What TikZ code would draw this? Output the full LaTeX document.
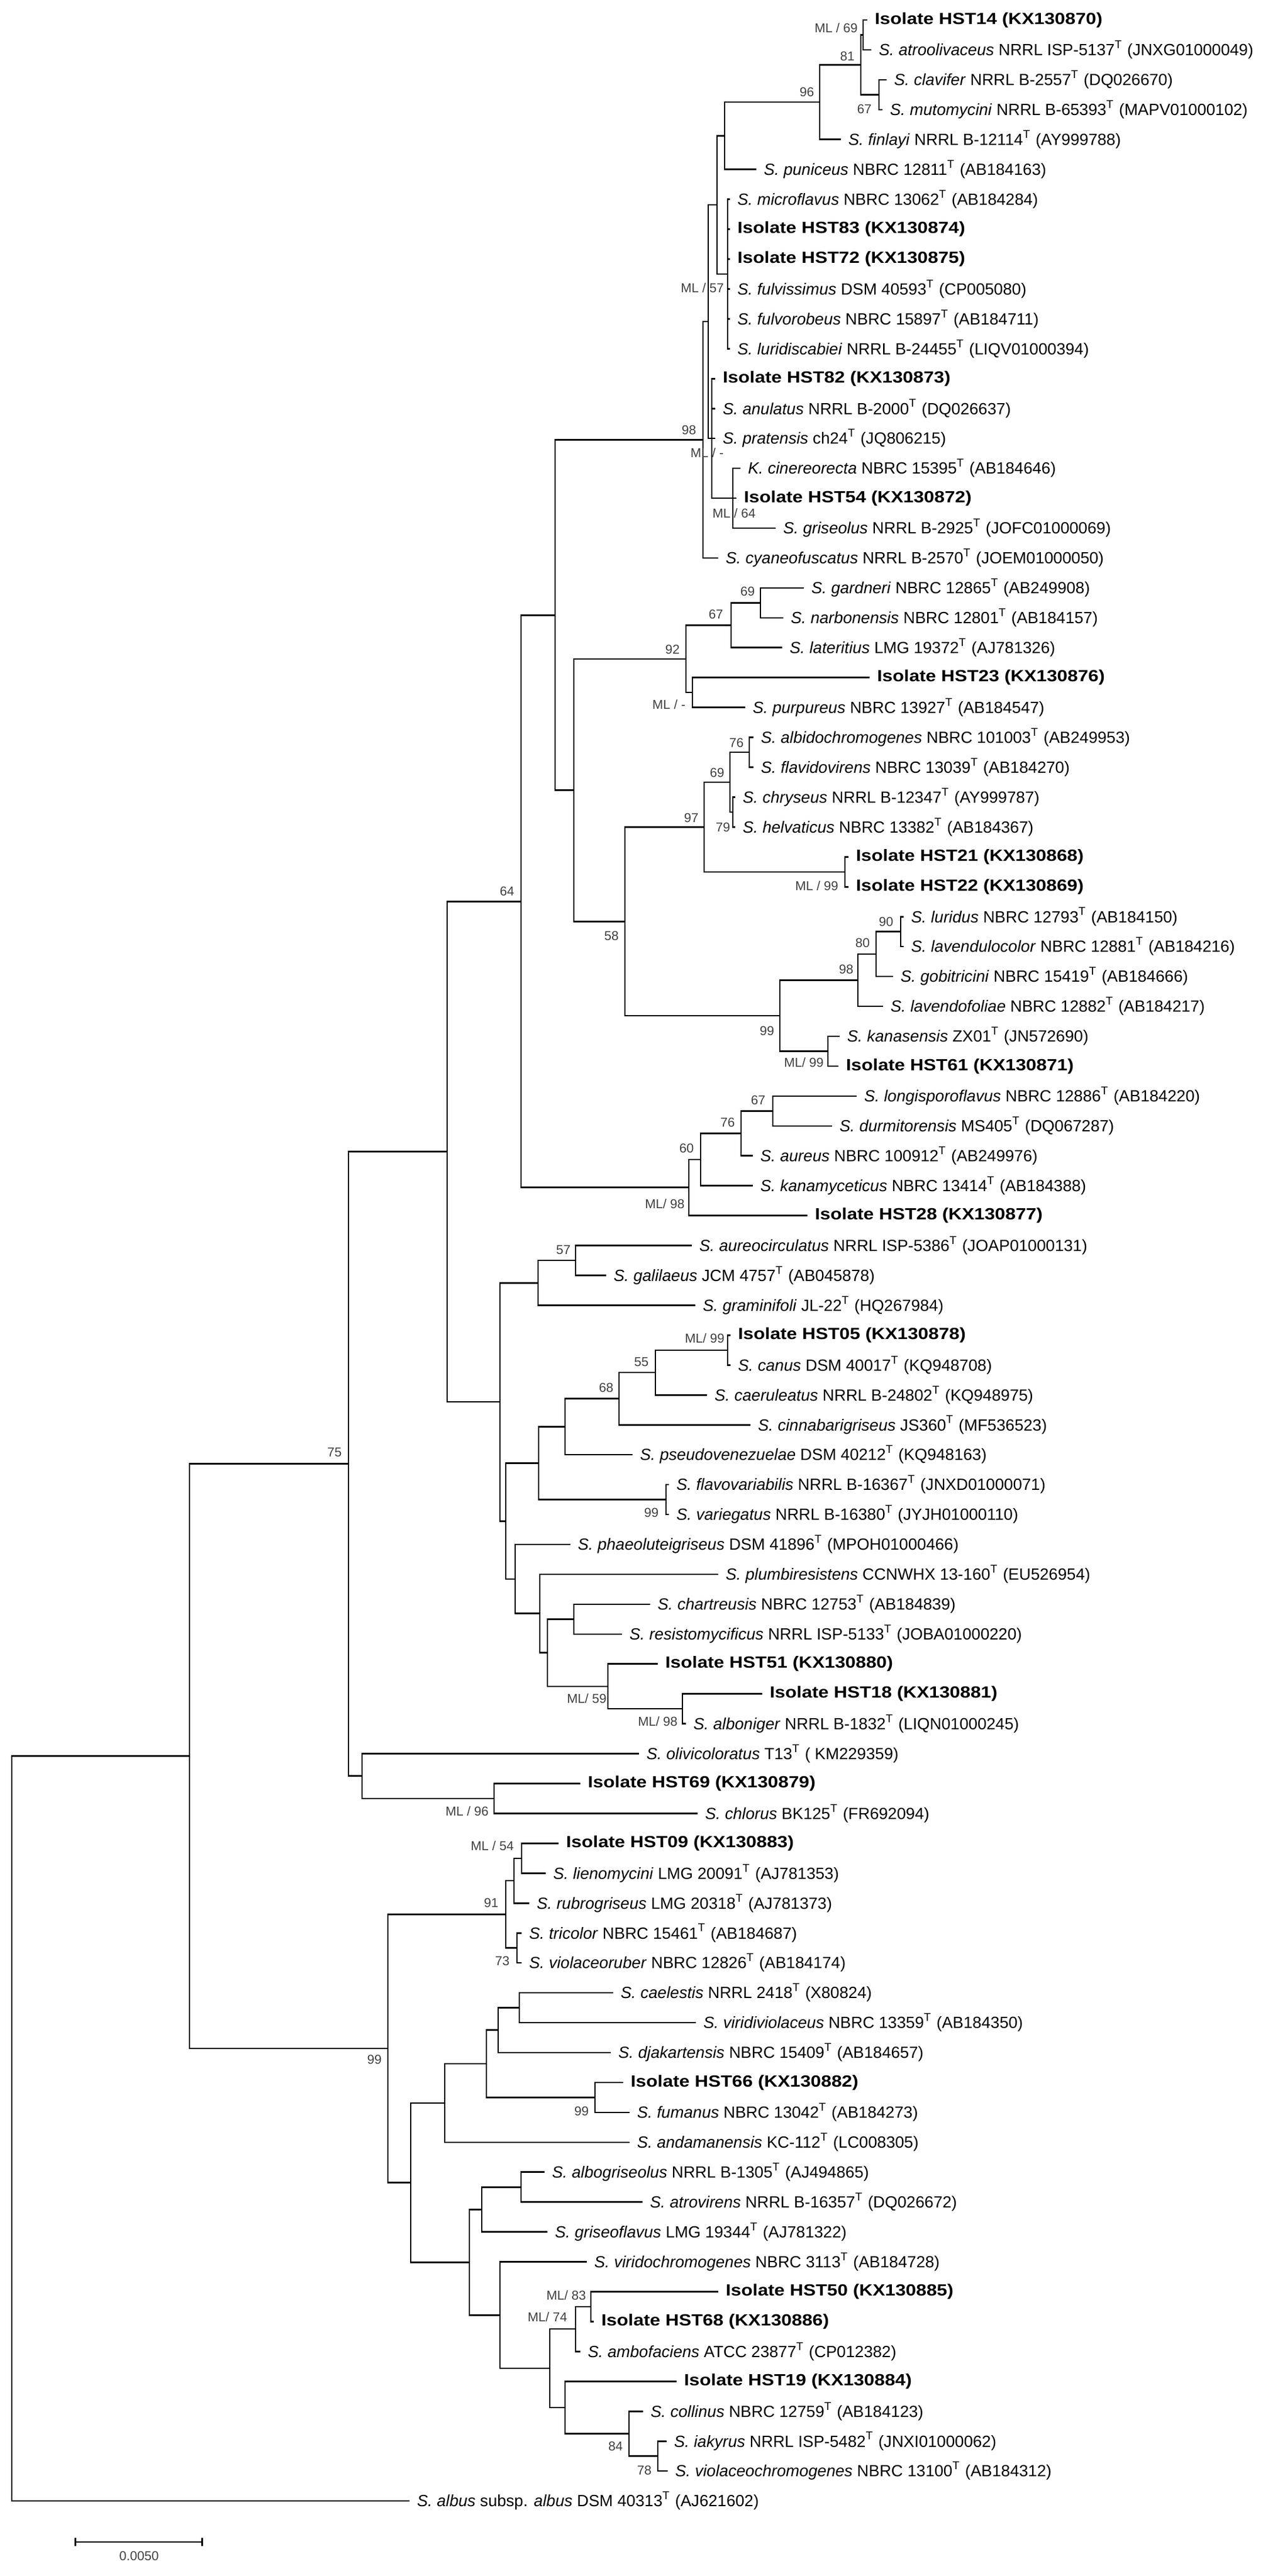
\documentclass[tikz,border=0pt]{standalone}
\usepackage{fontspec}
\setmainfont{Liberation Sans}
\newfontfamily\isofont[FakeStretch=1.15]{Liberation Sans}
\usetikzlibrary{arrows.meta}
\newcommand{\typeT}{\textsuperscript{T}}

\begin{document}
\begin{tikzpicture}[x=0.25pt, y=-12.735pt]
  \tikzset{
    branch/.style={line width=0.65pt},
    taxon/.style={anchor=west, inner xsep=3pt, inner ysep=0pt,
                  font=\fontsize{6.9}{8}\selectfont},
    isolate/.style={taxon, font=\isofont\fontsize{6.9}{8}\selectfont\bfseries},
    boot/.style={inner sep=0pt, text=black!75, font=\fontsize{5.5}{6}\selectfont}
  }
  \useasboundingbox (0,0.3326) rectangle (2160,86.512);

  % inner nodes (x in px, y in rows)
  \coordinate (ml69)  at (1471,1.5);
  \coordinate (n67a)  at (1498,3.5);
  \coordinate (n81)   at (1467,2.5);
  \coordinate (n96)   at (1397,3.75);
  \coordinate (nb)    at (1235,4.875);
  \coordinate (ml57)  at (1240,9.5);
  \coordinate (na)    at (1222,7.1875);
  \coordinate (ml64)  at (1249,17);
  \coordinate (mlx)   at (1213,15);
  \coordinate (nq)    at (1207,11.09);
  \coordinate (n98)   at (1198,15.05);
  \coordinate (n69a)  at (1296,20.5);
  \coordinate (n67b)  at (1246,21.25);
  \coordinate (mly)   at (1180,23.5);
  \coordinate (n92)   at (1169,22.375);
  \coordinate (n76a)  at (1277,25.5);
  \coordinate (n79)   at (1249,27.5);
  \coordinate (n69c)  at (1244,26.5);
  \coordinate (ml99b) at (1440,29.5);
  \coordinate (n97)   at (1200,28);
  \coordinate (n90)   at (1535,31.5);
  \coordinate (n80)   at (1493,32.25);
  \coordinate (n98b)  at (1462,33.125);
  \coordinate (ml99c) at (1411,35.5);
  \coordinate (n99a)  at (1329,34.31);
  \coordinate (n58)   at (1065,31.16);
  \coordinate (nc)    at (978,26.77);
  \coordinate (nd)    at (946,20.91);
  \coordinate (n67c)  at (1317,37.5);
  \coordinate (n76b)  at (1263,38.25);
  \coordinate (n60)   at (1194,39.125);
  \coordinate (ml98a) at (1174,40.06);
  \coordinate (n64)   at (888,30.49);
  \coordinate (n57)   at (981,42.5);
  \coordinate (ne)    at (917,43.25);
  \coordinate (ml99d) at (1240,45.5);
  \coordinate (n55)   at (1117,46.25);
  \coordinate (n68)   at (1055,47.125);
  \coordinate (nl)    at (963,48.06);
  \coordinate (n99e)  at (1135,50.5);
  \coordinate (nj)    at (918,49.28);
  \coordinate (no)    at (978,54.5);
  \coordinate (ml98d) at (1163,57.5);
  \coordinate (ml59)  at (1036,56.75);
  \coordinate (nn)    at (933,55.625);
  \coordinate (nm)    at (920,54.31);
  \coordinate (nk)    at (878,53.16);
  \coordinate (ni)    at (862,51.22);
  \coordinate (nf)    at (852,47.23);
  \coordinate (ng)    at (762,38.86);
  \coordinate (ml96)  at (842,60.5);
  \coordinate (nh)    at (617,59.75);
  \coordinate (n75)   at (594,49.3);
  \coordinate (ml54)  at (889,62.5);
  \coordinate (nt)    at (876,63.25);
  \coordinate (n73)   at (881,65.5);
  \coordinate (n91)   at (862,64.375);
  \coordinate (nz)    at (885,67.5);
  \coordinate (ny)    at (849,68.25);
  \coordinate (n99g)  at (1014,70.5);
  \coordinate (nx)    at (829,69.375);
  \coordinate (nv)    at (758,70.69);
  \coordinate (ncc)   at (888,73.5);
  \coordinate (naa)   at (821,74.25);
  \coordinate (ml83)  at (1007,77.5);
  \coordinate (ml74)  at (981,78.25);
  \coordinate (n78)   at (1121,82.5);
  \coordinate (n84)   at (1072,81.75);
  \coordinate (nff)   at (963,80.875);
  \coordinate (ndd)   at (937,79.56);
  \coordinate (nbb)   at (852,77.78);
  \coordinate (nw)    at (800,76.02);
  \coordinate (ns)    at (700,73.35);
  \coordinate (n99f)  at (661,68.86);
  \coordinate (nr)    at (323,59.08);
  \coordinate (root)  at (20,71.54);

  % taxa
  \node[isolate] (hst14)  at (1478,1) {Isolate HST14 (KX130870)};
  \node[taxon] (atroolivaceus) at (1485,2) {\textit{S. atroolivaceus} NRRL ISP-5137\typeT{} (JNXG01000049)};
  \node[taxon] (clavifer) at (1511,3) {\textit{S. clavifer} NRRL B-2557\typeT{} (DQ026670)};
  \node[taxon] (mutomycini) at (1504,4) {\textit{S. mutomycini} NRRL B-65393\typeT{} (MAPV01000102)};
  \node[taxon] (finlayi) at (1433,5) {\textit{S. finlayi} NRRL B-12114\typeT{} (AY999788)};
  \node[taxon] (puniceus) at (1289,6) {\textit{S. puniceus} NBRC 12811\typeT{} (AB184163)};
  \node[taxon] (microflavus) at (1244,7) {\textit{S. microflavus} NBRC 13062\typeT{} (AB184284)};
  \node[isolate] (hst83)  at (1244,8) {Isolate HST83 (KX130874)};
  \node[isolate] (hst72)  at (1244,9) {Isolate HST72 (KX130875)};
  \node[taxon] (fulvissimus) at (1244,10) {\textit{S. fulvissimus} DSM 40593\typeT{} (CP005080)};
  \node[taxon] (fulvorobeus) at (1244,11) {\textit{S. fulvorobeus} NBRC 15897\typeT{} (AB184711)};
  \node[taxon] (luridiscabiei) at (1244,12) {\textit{S. luridiscabiei} NRRL B-24455\typeT{} (LIQV01000394)};
  \node[isolate] (hst82)  at (1219,13) {Isolate HST82 (KX130873)};
  \node[taxon] (anulatus) at (1219,14) {\textit{S. anulatus} NRRL B-2000\typeT{} (DQ026637)};
  \node[taxon] (pratensis) at (1219,15) {\textit{S. pratensis} ch24\typeT{} (JQ806215)};
  \node[taxon] (cinereorecta) at (1262,16) {\textit{K. cinereorecta} NBRC 15395\typeT{} (AB184646)};
  \node[isolate] (hst54)  at (1255,17) {Isolate HST54 (KX130872)};
  \node[taxon] (griseolus) at (1322,18) {\textit{S. griseolus} NRRL B-2925\typeT{} (JOFC01000069)};
  \node[taxon] (cyaneofuscatus) at (1224,19) {\textit{S. cyaneofuscatus} NRRL B-2570\typeT{} (JOEM01000050)};
  \node[taxon] (gardneri) at (1370,20) {\textit{S. gardneri} NBRC 12865\typeT{} (AB249908)};
  \node[taxon] (narbonensis) at (1335,21) {\textit{S. narbonensis} NBRC 12801\typeT{} (AB184157)};
  \node[taxon] (lateritius) at (1333,22) {\textit{S. lateritius} LMG 19372\typeT{} (AJ781326)};
  \node[isolate] (hst23)  at (1482,23) {Isolate HST23 (KX130876)};
  \node[taxon] (purpureus) at (1270,24) {\textit{S. purpureus} NBRC 13927\typeT{} (AB184547)};
  \node[taxon] (albidochromogenes) at (1284,25) {\textit{S. albidochromogenes} NBRC 101003\typeT{} (AB249953)};
  \node[taxon] (flavidovirens) at (1284,26) {\textit{S. flavidovirens} NBRC 13039\typeT{} (AB184270)};
  \node[taxon] (chryseus) at (1253,27) {\textit{S. chryseus} NRRL B-12347\typeT{} (AY999787)};
  \node[taxon] (helvaticus) at (1253,28) {\textit{S. helvaticus} NBRC 13382\typeT{} (AB184367)};
  \node[isolate] (hst21)  at (1446,29) {Isolate HST21 (KX130868)};
  \node[isolate] (hst22)  at (1446,30) {Isolate HST22 (KX130869)};
  \node[taxon] (luridus) at (1540,31) {\textit{S. luridus} NBRC 12793\typeT{} (AB184150)};
  \node[taxon] (lavendulocolor) at (1540,32) {\textit{S. lavendulocolor} NBRC 12881\typeT{} (AB184216)};
  \node[taxon] (gobitricini) at (1522,33) {\textit{S. gobitricini} NBRC 15419\typeT{} (AB184666)};
  \node[taxon] (lavendofoliae) at (1505,34) {\textit{S. lavendofoliae} NBRC 12882\typeT{} (AB184217)};
  \node[taxon] (kanasensis) at (1431,35) {\textit{S. kanasensis} ZX01\typeT{} (JN572690)};
  \node[isolate] (hst61)  at (1429,36) {Isolate HST61 (KX130871)};
  \node[taxon] (longisporoflavus) at (1460,37) {\textit{S. longisporoflavus} NBRC 12886\typeT{} (AB184220)};
  \node[taxon] (durmitorensis) at (1418,38) {\textit{S. durmitorensis} MS405\typeT{} (DQ067287)};
  \node[taxon] (aureus) at (1283,39) {\textit{S. aureus} NBRC 100912\typeT{} (AB249976)};
  \node[taxon] (kanamyceticus) at (1283,40) {\textit{S. kanamyceticus} NBRC 13414\typeT{} (AB184388)};
  \node[isolate] (hst28)  at (1376,41) {Isolate HST28 (KX130877)};
  \node[taxon] (aureocirculatus) at (1179,42) {\textit{S. aureocirculatus} NRRL ISP-5386\typeT{} (JOAP01000131)};
  \node[taxon] (galilaeus) at (1033,43) {\textit{S. galilaeus} JCM 4757\typeT{} (AB045878)};
  \node[taxon] (graminifoli) at (1185,44) {\textit{S. graminifoli} JL-22\typeT{} (HQ267984)};
  \node[isolate] (hst05)  at (1245,45) {Isolate HST05 (KX130878)};
  \node[taxon] (canus) at (1245,46) {\textit{S. canus} DSM 40017\typeT{} (KQ948708)};
  \node[taxon] (caeruleatus) at (1205,47) {\textit{S. caeruleatus} NRRL B-24802\typeT{} (KQ948975)};
  \node[taxon] (cinnabarigriseus) at (1279,48) {\textit{S. cinnabarigriseus} JS360\typeT{} (MF536523)};
  \node[taxon] (pseudovenezuelae) at (1078,49) {\textit{S. pseudovenezuelae} DSM 40212\typeT{} (KQ948163)};
  \node[taxon] (flavovariabilis) at (1140,50) {\textit{S. flavovariabilis} NRRL B-16367\typeT{} (JNXD01000071)};
  \node[taxon] (variegatus) at (1140,51) {\textit{S. variegatus} NRRL B-16380\typeT{} (JYJH01000110)};
  \node[taxon] (phaeoluteigriseus) at (972,52) {\textit{S. phaeoluteigriseus} DSM 41896\typeT{} (MPOH01000466)};
  \node[taxon] (plumbiresistens) at (1224,53) {\textit{S. plumbiresistens} CCNWHX 13-160\typeT{} (EU526954)};
  \node[taxon] (chartreusis) at (1108,54) {\textit{S. chartreusis} NBRC 12753\typeT{} (AB184839)};
  \node[taxon] (resistomycificus) at (1060,55) {\textit{S. resistomycificus} NRRL ISP-5133\typeT{} (JOBA01000220)};
  \node[isolate] (hst51)  at (1121,56) {Isolate HST51 (KX130880)};
  \node[isolate] (hst18)  at (1299,57) {Isolate HST18 (KX130881)};
  \node[taxon] (alboniger) at (1169,58) {\textit{S. alboniger} NRRL B-1832\typeT{} (LIQN01000245)};
  \node[taxon] (olivicoloratus) at (1089,59) {\textit{S. olivicoloratus} T13\typeT{} ( KM229359)};
  \node[isolate] (hst69)  at (989,60) {Isolate HST69 (KX130879)};
  \node[taxon] (chlorus) at (1189,61) {\textit{S. chlorus} BK125\typeT{} (FR692094)};
  \node[isolate] (hst09)  at (952,62) {Isolate HST09 (KX130883)};
  \node[taxon] (lienomycini) at (930,63) {\textit{S. lienomycini} LMG 20091\typeT{} (AJ781353)};
  \node[taxon] (rubrogriseus) at (902,64) {\textit{S. rubrogriseus} LMG 20318\typeT{} (AJ781373)};
  \node[taxon] (tricolor) at (889,65) {\textit{S. tricolor} NBRC 15461\typeT{} (AB184687)};
  \node[taxon] (violaceoruber) at (889,66) {\textit{S. violaceoruber} NBRC 12826\typeT{} (AB184174)};
  \node[taxon] (caelestis) at (1045,67) {\textit{S. caelestis} NRRL 2418\typeT{} (X80824)};
  \node[taxon] (viridiviolaceus) at (1186,68) {\textit{S. viridiviolaceus} NBRC 13359\typeT{} (AB184350)};
  \node[taxon] (djakartensis) at (1041,69) {\textit{S. djakartensis} NBRC 15409\typeT{} (AB184657)};
  \node[isolate] (hst66)  at (1062,70) {Isolate HST66 (KX130882)};
  \node[taxon] (fumanus) at (1073,71) {\textit{S. fumanus} NBRC 13042\typeT{} (AB184273)};
  \node[taxon] (andamanensis) at (1073,72) {\textit{S. andamanensis} KC-112\typeT{} (LC008305)};
  \node[taxon] (albogriseolus) at (928,73) {\textit{S. albogriseolus} NRRL B-1305\typeT{} (AJ494865)};
  \node[taxon] (atrovirens) at (1095,74) {\textit{S. atrovirens} NRRL B-16357\typeT{} (DQ026672)};
  \node[taxon] (griseoflavus) at (933,75) {\textit{S. griseoflavus} LMG 19344\typeT{} (AJ781322)};
  \node[taxon] (viridochromogenes) at (1000,76) {\textit{S. viridochromogenes} NBRC 3113\typeT{} (AB184728)};
  \node[isolate] (hst50)  at (1224,77) {Isolate HST50 (KX130885)};
  \node[isolate] (hst68)  at (1012,78) {Isolate HST68 (KX130886)};
  \node[taxon] (ambofaciens) at (989,79) {\textit{S. ambofaciens} ATCC 23877\typeT{} (CP012382)};
  \node[isolate] (hst19)  at (1153,80) {Isolate HST19 (KX130884)};
  \node[taxon] (collinus) at (1096,81) {\textit{S. collinus} NBRC 12759\typeT{} (AB184123)};
  \node[taxon] (iakyrus) at (1136,82) {\textit{S. iakyrus} NRRL ISP-5482\typeT{} (JNXI01000062)};
  \node[taxon] (violaceochromogenes) at (1138,83) {\textit{S. violaceochromogenes} NBRC 13100\typeT{} (AB184312)};
  \node[taxon] (albus) at (698,84) {\textit{S. albus} subsp. \textit{albus} DSM 40313\typeT{} (AJ621602)};

  % branches
  \foreach \p/\c in {n81/ml69, ml69/hst14, ml69/atroolivaceus, n81/n67a,
      n67a/clavifer, n67a/mutomycini, n96/n81, n96/finlayi, nb/n96, nb/puniceus,
      ml57/microflavus, ml57/hst83, ml57/hst72, ml57/fulvissimus,
      ml57/fulvorobeus, ml57/luridiscabiei, na/nb, na/ml57,
      ml64/cinereorecta, ml64/hst54, ml64/griseolus,
      mlx/hst82, mlx/anulatus, mlx/pratensis, mlx/ml64,
      nq/na, nq/mlx, n98/nq, n98/cyaneofuscatus,
      n69a/gardneri, n69a/narbonensis, n67b/n69a, n67b/lateritius,
      mly/hst23, mly/purpureus, n92/n67b, n92/mly,
      n76a/albidochromogenes, n76a/flavidovirens, n79/chryseus, n79/helvaticus,
      n69c/n76a, n69c/n79, ml99b/hst21, ml99b/hst22, n97/n69c, n97/ml99b,
      n90/luridus, n90/lavendulocolor, n80/n90, n80/gobitricini,
      n98b/n80, n98b/lavendofoliae, ml99c/kanasensis, ml99c/hst61,
      n99a/n98b, n99a/ml99c, n58/n97, n58/n99a, nc/n92, nc/n58, nd/n98, nd/nc,
      n67c/longisporoflavus, n67c/durmitorensis, n76b/n67c, n76b/aureus,
      n60/n76b, n60/kanamyceticus, ml98a/n60, ml98a/hst28, n64/nd, n64/ml98a,
      n57/aureocirculatus, n57/galilaeus, ne/n57, ne/graminifoli,
      ml99d/hst05, ml99d/canus, n55/ml99d, n55/caeruleatus,
      n68/n55, n68/cinnabarigriseus, nl/n68, nl/pseudovenezuelae,
      n99e/flavovariabilis, n99e/variegatus, nj/nl, nj/n99e,
      no/chartreusis, no/resistomycificus, ml98d/hst18, ml98d/alboniger,
      ml59/hst51, ml59/ml98d, nn/no, nn/ml59, nm/plumbiresistens, nm/nn,
      nk/phaeoluteigriseus, nk/nm, ni/nj, ni/nk, nf/ne, nf/ni, ng/n64, ng/nf,
      ml96/hst69, ml96/chlorus, nh/olivicoloratus, nh/ml96, n75/ng, n75/nh,
      ml54/hst09, ml54/lienomycini, nt/ml54, nt/rubrogriseus,
      n73/tricolor, n73/violaceoruber, n91/nt, n91/n73,
      nz/caelestis, nz/viridiviolaceus, ny/nz, ny/djakartensis,
      n99g/hst66, n99g/fumanus, nx/ny, nx/n99g, nv/nx, nv/andamanensis,
      ncc/albogriseolus, ncc/atrovirens, naa/ncc, naa/griseoflavus,
      ml83/hst50, ml83/hst68, ml74/ml83, ml74/ambofaciens,
      n78/iakyrus, n78/violaceochromogenes, n84/collinus, n84/n78,
      nff/hst19, nff/n84, ndd/ml74, ndd/nff, nbb/viridochromogenes, nbb/ndd,
      nw/naa, nw/nbb, ns/nv, ns/nw, n99f/n91, n99f/ns, nr/n75, nr/n99f,
      root/nr, root/albus}
    \draw[branch] (\p) |- (\c);

  % support values
  \node[boot] (b_ml69)  at (1425,1.275) {ML / 69};
  \node[boot] (b_n81)   at (1444,2.217) {81};
  \node[boot] (b_n96)   at (1375,3.415) {96};
  \node[boot] (b_n67a)  at (1473,3.984) {67};
  \node[boot] (b_ml57)  at (1197,9.971) {ML / 57};
  \node[boot] (b_n98)   at (1174,14.72) {98};
  \node[boot] (b_mlx)   at (1205,15.49) {ML / -};
  \node[boot] (b_ml64)  at (1251,17.51) {ML / 64};
  \node[boot] (b_n69a)  at (1274,20.12) {69};
  \node[boot] (b_n67b)  at (1220,20.89) {67};
  \node[boot] (b_n92)   at (1146,22.06) {92};
  \node[boot] (b_mly)   at (1140,23.91) {ML / -};
  \node[boot] (b_n76a)  at (1255,25.19) {76};
  \node[boot] (b_n69c)  at (1222,26.19) {69};
  \node[boot] (b_n79)   at (1232,28.01) {79};
  \node[boot] (b_n97)   at (1178,27.70) {97};
  \node[boot] (b_ml99b) at (1392,29.96) {ML / 99};
  \node[boot] (b_n90)   at (1510,31.17) {90};
  \node[boot] (b_n80)   at (1470,31.88) {80};
  \node[boot] (b_n58)   at (1042,31.64) {58};
  \node[boot] (b_n98b)  at (1442,32.76) {98};
  \node[boot] (b_n99a)  at (1307,34.82) {99};
  \node[boot] (b_ml99c) at (1370,35.88) {ML/ 99};
  \node[boot] (b_n64)   at (864,30.15) {64};
  \node[boot] (b_n67c)  at (1292,37.14) {67};
  \node[boot] (b_n76b)  at (1240,37.89) {76};
  \node[boot] (b_n60)   at (1170,38.75) {60};
  \node[boot] (b_ml98a) at (1133,40.61) {ML/ 98};
  \node[boot] (b_n57)   at (960,42.15) {57};
  \node[boot] (b_ml99d) at (1201,45.11) {ML/ 99};
  \node[boot] (b_n55)   at (1093,45.90) {55};
  \node[boot] (b_n68)   at (1033,46.76) {68};
  \node[boot] (b_n99e)  at (1110,50.94) {99};
  \node[boot] (b_n75)   at (570,48.92) {75};
  \node[boot] (b_ml59)  at (1000,57.16) {ML/ 59};
  \node[boot] (b_ml98d) at (1121,57.93) {ML/ 98};
  \node[boot] (b_ml96)  at (796,60.93) {ML / 96};
  \node[boot] (b_ml54)  at (839,62.09) {ML / 54};
  \node[boot] (b_n91)   at (837,63.99) {91};
  \node[boot] (b_n73)   at (856,65.94) {73};
  \node[boot] (b_n99f)  at (638,69.24) {99};
  \node[boot] (b_n99g)  at (991,70.97) {99};
  \node[boot] (b_ml83)  at (965,77.13) {ML/ 83};
  \node[boot] (b_ml74)  at (933,77.84) {ML/ 74};
  \node[boot] (b_n84)   at (1049,82.17) {84};
  \node[boot] (b_n78)   at (1098,82.98) {78};

  % scale bar
  \coordinate (sb_l) at (127,85.37);
  \coordinate (sb_r) at (346,85.37);
  \draw[branch, {Bar[width=3.5pt]}-{Bar[width=3.5pt]}] (sb_l) -- (sb_r);
  \node[boot] (sb_text) at (237,85.84) {0.0050};
\end{tikzpicture}
\end{document}
